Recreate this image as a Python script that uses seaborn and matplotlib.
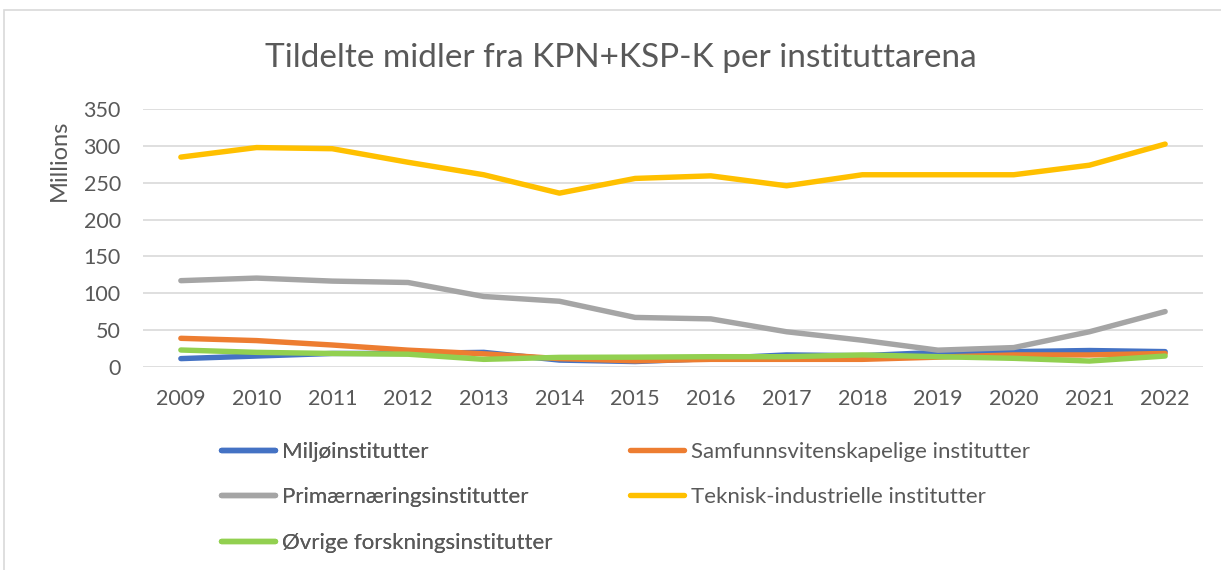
import pandas as pd
import seaborn as sns
import matplotlib.pyplot as plt
from matplotlib.patches import Rectangle

# Values (millions NOK)
years = [2009, 2010, 2011, 2012, 2013, 2014, 2015, 2016, 2017, 2018, 2019, 2020, 2021, 2022]
miljo = [11, 14.5, 18, 18, 19.5, 9, 7, 11, 16, 15, 19.5, 20.5, 22, 20.5]
samfunn = [38.6, 35.5, 29.5, 22.5, 17.5, 11, 8, 10, 10, 10, 13, 16, 16, 18]
primaer = [117, 120.5, 116.4, 114.5, 95.5, 89, 67, 65, 47.5, 36, 22.5, 26, 47.5, 75]
teknisk = [285, 298, 296.4, 278, 261, 236, 256, 259.5, 246, 261, 261, 261, 274, 302.7]
ovrige = [22.7, 19.5, 18, 17, 10, 12.7, 13, 13.6, 13.6, 16, 13.6, 11.4, 7.7, 14.5]

series_names = ["Miljøinstitutter", "Samfunnsvitenskapelige institutter",
                "Primærnæringsinstitutter", "Teknisk-industrielle institutter",
                "Øvrige forskningsinstitutter"]
series_values = [miljo, samfunn, primaer, teknisk, ovrige]
colors = ["#4472C4", "#ED7D31", "#A5A5A5", "#FFC000", "#92D050"]

rows = []
for name, vals in zip(series_names, series_values):
    for yr, v in zip(years, vals):
        rows.append({"year": yr, "value": v, "arena": name})
df = pd.DataFrame(rows)

sns.set_theme(style="white")
plt.rcParams['font.family'] = ['Lato', 'DejaVu Sans']
text_col = "#595959"
grid_col = "#D9D9D9"
lw = 3.9

fig = plt.figure(figsize=(12.21, 5.70), dpi=100)
ax = fig.add_axes([143 / 1221, 1 - 366.7 / 570, (1203 - 143) / 1221, (366.7 - 109.3) / 570])

sns.lineplot(data=df, x="year", y="value", hue="arena", hue_order=series_names,
             palette=colors, linewidth=lw, sort=False, ax=ax, legend=False,
             solid_capstyle="round")
for ln in ax.lines:
    ln.set_clip_on(False)

ax.set_xlim(2008.5, 2022.5)
ax.set_ylim(0, 350)
ax.set_xticks(years)
ax.set_xticklabels([str(y) for y in years])
ax.set_yticks(range(0, 351, 50))
ax.tick_params(axis="both", length=0, labelsize=15.5, colors=text_col)
ax.tick_params(axis="y", pad=16)
ax.tick_params(axis="x", pad=16)
ax.grid(axis="y", color=grid_col, linewidth=1.2)
ax.set_axisbelow(True)
for s in ax.spines.values():
    s.set_visible(False)
ax.set_xlabel("")
ax.set_ylabel("Millions", fontsize=17, color=text_col)
ax.yaxis.set_label_coords(-73 / 1060, (366.7 - 160) / 257.4)

# title
fig.text(621 / 1221, 1 - 66.7 / 570, "Tildelte midler fra KPN+KSP-K per instituttarena",
         ha="center", va="baseline", fontsize=24, color=text_col)

# legend, two columns placed like the reference (row-major order)
handles = [plt.Line2D([], [], color=c, linewidth=lw, solid_capstyle="round") for c in colors]
leg_kw = dict(frameon=False, fontsize=16, labelcolor=text_col, loc="upper left",
              handlelength=2.45, handletextpad=0.28, labelspacing=1.14, borderaxespad=0)
col1 = [0, 2, 4]
col2 = [1, 3]
leg1 = fig.legend([handles[i] for i in col1], [series_names[i] for i in col1],
                  bbox_to_anchor=(212 / 1221, 1 - 433 / 570), **leg_kw)
fig.add_artist(leg1)
fig.legend([handles[i] for i in col2], [series_names[i] for i in col2],
           bbox_to_anchor=(621 / 1221, 1 - 433 / 570), **leg_kw)

# chart area border
fig.patches.append(Rectangle((4 / 1221, -0.1), 1.2, 1.1 - 10 / 570, transform=fig.transFigure,
                             fill=False, edgecolor=grid_col, linewidth=1.2))

fig.savefig("out.png", dpi=100)
